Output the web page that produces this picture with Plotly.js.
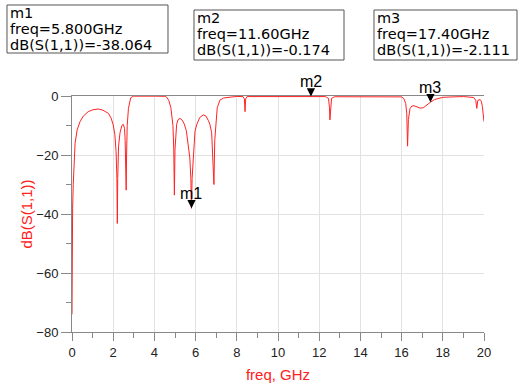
<!DOCTYPE html>
<html>
<head>
<meta charset="utf-8">
<script src="https://cdn.plot.ly/plotly-3.0.1.min.js"></script>
<style>html,body{margin:0;padding:0;background:#fff;}#chart{width:521px;height:387px;}</style>
</head>
<body>
<div id="chart"></div>
<script>
// S11 trace, frequency in GHz
var freq = [
  0.00, 0.01, 0.03, 0.06, 0.10, 0.15, 0.25, 0.39, 0.55, 0.79, 1.00, 1.28, 1.50, 1.77, 1.90, 2.00, 2.08, 2.14, 2.18, 2.20,
  2.22, 2.26, 2.33, 2.42, 2.49, 2.55, 2.58, 2.61, 2.63, 2.65, 2.68, 2.74, 2.80, 2.85, 2.95, 3.00, 4.00, 4.50, 4.60, 4.70,
  4.80, 4.84, 4.90, 4.94, 4.97, 5.00, 5.04, 5.08, 5.15, 5.24, 5.35, 5.45, 5.55, 5.65, 5.72, 5.77, 5.80, 5.83, 5.89, 5.97,
  6.05, 6.20, 6.37, 6.50, 6.62, 6.70, 6.78, 6.83, 6.89, 6.93, 6.99, 7.05, 7.18, 7.35, 7.67, 8.00, 8.30, 8.37, 8.40, 8.43,
  8.50, 10.00, 11.60, 12.30, 12.45, 12.50, 12.52, 12.55, 12.60, 12.75, 14.00, 16.00, 16.10, 16.20, 16.25, 16.29, 16.33, 16.41, 16.50, 16.60,
  16.75, 16.90, 17.05, 17.20, 17.40, 17.60, 17.80, 18.00, 18.50, 19.00, 19.50, 19.60, 19.65, 19.70, 19.81, 19.87, 19.92, 19.97, 20.00
];
var s11dB = [
  -74.0, -50.0, -38.0, -30.0, -22.0, -16.0, -11.5, -8.7, -6.8, -5.3, -4.7, -4.4, -4.8, -5.9, -7.5, -9.8, -13.0, -18.9, -28.0, -43.2,
  -28.0, -17.0, -12.5, -10.0, -9.6, -11.0, -15.0, -24.0, -31.9, -20.0, -10.0, -4.2, -1.8, -0.6, -0.15, -0.05, -0.05, -0.1, -0.4, -1.5,
  -4.0, -5.9, -10.0, -18.0, -33.6, -18.0, -12.0, -9.6, -8.0, -7.6, -8.2, -9.5, -11.8, -16.6, -21.0, -28.0, -38.064, -28.0, -18.9, -12.0,
  -9.8, -7.3, -6.4, -6.8, -8.3, -9.8, -12.5, -18.9, -30.0, -15.0, -7.6, -4.0, -1.4, -0.7, -0.4, -0.15, -0.2, -1.0, -5.3, -1.0,
  -0.2, -0.1, -0.174, -0.2, -0.8, -4.0, -8.1, -4.0, -0.8, -0.25, -0.2, -0.3, -0.8, -2.5, -6.0, -17.0, -8.0, -4.2, -3.4, -3.3,
  -3.7, -4.1, -4.0, -3.1, -2.111, -1.2, -0.7, -0.45, -0.3, -0.2, -0.5, -1.5, -4.2, -1.5, -1.2, -1.8, -3.5, -7.6, -8.7
];

// markers
var markerNames = ["m1", "m2", "m3"];
var markerFreq = [5.8, 11.6, 17.4];
var markerVal = ["-38.064", "-0.174", "-2.111"];
var markerFreqText = ["5.800", "11.60", "17.40"];

var xTickVals = [0, 2, 4, 6, 8, 10, 12, 14, 16, 18, 20];
var yTickVals = [0, -20, -40, -60, -80];

var trace = {
  x: freq, y: s11dB, type: "scatter", mode: "lines",
  line: {color: "rgb(255,35,35)", width: 1},
  hoverinfo: "skip", showlegend: false
};

// box geometry (paper coords), one entry per marker
var boxX0 = [-0.1578, 0.2961, 0.7330];
var boxX1 = [0.2330, 0.6602, 1.0801];
var boxTop = [1.3856, 1.3644, 1.3644];
var boxBot = [1.1822, 1.1525, 1.1525];
var lineStep = 16 / 236;

var shapes = [];
var annotations = [];
for (var i = 0; i < markerNames.length; i++) {
  shapes.push({type: "rect", xref: "paper", yref: "paper",
    x0: boxX0[i], x1: boxX1[i], y0: boxBot[i], y1: boxTop[i],
    line: {color: "#555", width: 1}, fillcolor: "rgba(0,0,0,0)"});
  var lines = [markerNames[i], "freq=" + markerFreqText[i] + "GHz", "dB(S(1,1))=" + markerVal[i]];
  for (var k = 0; k < 3; k++) {
    annotations.push({xref: "paper", yref: "paper",
      x: boxX0[i] + 2 / 412, y: boxTop[i] - (8 / 236) - k * lineStep,
      xanchor: "left", yanchor: "middle", showarrow: false, text: lines[k], borderpad: 0,
      font: {family: "DejaVu Sans", size: 14.5, color: "#000"}});
  }
  annotations.push({x: markerFreq[i], y: Number(markerVal[i]), xref: "x", yref: "y",
    text: markerNames[i], showarrow: true, arrowhead: 2, arrowsize: 1.1, arrowwidth: 1.5,
    arrowcolor: "#000", ax: 0, ay: -15, standoff: 0,
    font: {family: "Liberation Sans", size: 16, color: "#000"}});
}

var layout = {
  width: 521, height: 387,
  margin: {l: 72, r: 37, t: 96, b: 55, pad: 0},
  paper_bgcolor: "#fff", plot_bgcolor: "#fff",
  font: {family: "Liberation Sans", color: "#222"},
  xaxis: {
    range: [0, 20], tickvals: xTickVals, ticks: "outside", ticklen: 8, tickwidth: 1, tickcolor: "#888",
    showline: true, linecolor: "#888", linewidth: 1, mirror: true,
    showgrid: true, gridcolor: "#e2e2e2", gridwidth: 1, zeroline: false,
    tickfont: {family: "Liberation Sans", size: 13, color: "#222"},
    minor: {dtick: 1, tick0: 0, ticks: "outside", ticklen: 5, tickcolor: "#888", showgrid: false},
    title: {text: "freq, GHz", font: {family: "Liberation Sans", size: 15, color: "#ff2020"}, standoff: 10}
  },
  yaxis: {
    range: [-80, 0], tickvals: yTickVals, ticks: "outside", ticklen: 10, tickwidth: 1, tickcolor: "#888",
    showline: true, linecolor: "#888", linewidth: 1,
    showgrid: true, gridcolor: "#e2e2e2", gridwidth: 1, zeroline: false,
    tickfont: {family: "Liberation Sans", size: 13, color: "#222"},
    minor: {dtick: 10, tick0: 0, ticks: "outside", ticklen: 5, tickcolor: "#888", showgrid: false},
    title: {text: "dB(S(1,1))", font: {family: "Liberation Sans", size: 15, color: "#ff2020"}, standoff: 0}
  },
  shapes: shapes,
  annotations: annotations,
  showlegend: false
};

Plotly.newPlot("chart", [trace], layout, {displayModeBar: false, staticPlot: true});
</script>
</body>
</html>
